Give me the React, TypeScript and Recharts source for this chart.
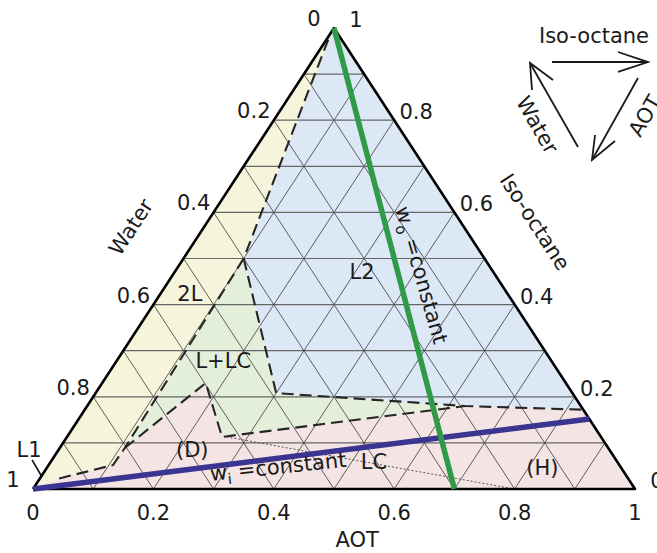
import React from 'react';
import { ScatterChart, Scatter, XAxis, YAxis } from 'recharts';

// Ternary points are [AOT fraction, iso-octane fraction]; water = 1 - AOT - iso-octane.
type T = [number, number];

const GRID_STEPS = [0.1, 0.2, 0.3, 0.4, 0.5, 0.6, 0.7, 0.8, 0.9];
const AOT_TICKS = [0, 0.2, 0.4, 0.6, 0.8, 1];
const WATER_TICKS = [0, 0.2, 0.4, 0.6, 0.8, 1];
const ISO_TICKS = [0, 0.2, 0.4, 0.6, 0.8, 1];

// phase regions
const REGION_2L: T[] = [[0, 1], [0, 0], [0.03, 0.022], [0.107, 0.052], [0.108, 0.089], [0.1, 0.5]];
const REGION_L2: T[] = [[0, 1], [0.1, 0.5], [0.3, 0.208], [0.628, 0.18], [0.828, 0.172]];
const REGION_LLC: T[] = [[0.1, 0.5], [0.108, 0.089], [0.172, 0.23], [0.2575, 0.113], [0.628, 0.18], [0.3, 0.208]];
const REGION_LC: T[] = [[0.828, 0.172], [1, 0], [0, 0], [0.03, 0.022], [0.107, 0.052], [0.108, 0.089], [0.172, 0.23], [0.2575, 0.113], [0.628, 0.18]];

// phase boundaries
const BOUNDARY_2L_L2: T[] = [[0.003, 0.975], [0.1, 0.5]];
const BOUNDARY_2L_RIGHT: T[] = [[0.1, 0.5], [0.108, 0.089], [0.107, 0.052], [0.03, 0.022]];
const BOUNDARY_L2_LOWER: T[] = [[0.1, 0.5], [0.3, 0.208], [0.628, 0.18], [0.828, 0.172]];
const BOUNDARY_LC_UPPER: T[] = [[0.108, 0.089], [0.172, 0.23], [0.2575, 0.113], [0.628, 0.18]];
const TIE_LINE: T[] = [[0.265, 0.113], [0.8, 0]];
const L1_POINTER: T[] = [[-0.033, 0.063], [0.002, 0.026]];

// constant-ratio lines
const WO_LINE: T[] = [[0, 1], [0.7, 0]];
const WI_LINE: T[] = [[0, 0], [0.848, 0.152]];

const TRIANGLE: T[] = [[0, 0], [1, 0], [0, 1], [0, 0]];

// labels in ternary coordinates
const REGION_LABELS = [
  { t: 'L2', p: [0.311, 0.471] as T },
  { t: '2L', p: [0.049, 0.423] as T },
  { t: 'L+LC', p: [0.177, 0.278] as T },
  { t: '(D)', p: [0.222, 0.085] as T },
  { t: 'LC', p: [0.537, 0.059] as T },
  { t: '(H)', p: [0.823, 0.046] as T },
  { t: 'L1', p: [-0.049, 0.085] as T },
];
const AXIS_TITLES = [
  { t: 'Water', p: [-0.121, 0.568] as T, rot: -57 },
  { t: 'Iso-octane', p: [0.544, 0.579] as T, rot: 57 },
  { t: 'AOT', p: [0.594, -0.111] as T, rot: 0 },
];
const FORMULA_LABELS = [
  { t: 'w', sub: 'i', rest: '=constant', p: [0.383, 0.048] as T, rot: -6 },
  { t: 'w', sub: 'o', rest: '=constant', p: [0.413, 0.464] as T, rot: 74 },
];

// orientation legend (plain chart-plane coordinates)
const LEGEND_ARROWS: { x: number; y: number }[][] = [
  [{ x: 0.8621, y: 0.9262 }, { x: 1.0216, y: 0.9262 }],
  [{ x: 0.9718, y: 0.9479 }, { x: 1.0216, y: 0.9262 }, { x: 0.9718, y: 0.9046 }],
  [{ x: 1.005, y: 0.8915 }, { x: 0.9286, y: 0.7137 }],
  [{ x: 0.9336, y: 0.7679 }, { x: 0.9286, y: 0.7137 }, { x: 0.9668, y: 0.7549 }],
  [{ x: 0.9053, y: 0.7419 }, { x: 0.8256, y: 0.9241 }],
  [{ x: 0.8638, y: 0.8872 }, { x: 0.8256, y: 0.9241 }, { x: 0.8289, y: 0.8655 }],
];
const LEGEND_LABELS = [
  { t: 'Iso-octane', x: 0.9319, y: 0.9826, rot: 0 },
  { t: 'AOT', x: 1.0166, y: 0.8091, rot: -60 },
  { t: 'Water', x: 0.8372, y: 0.7896, rot: 60 },
];

const tern = ([a, o]: T) => ({ x: a + o / 2, y: o });
const fmt = (v: number) => (v === 0 ? '0' : v === 1 ? '1' : v.toFixed(1));

const W = 657;
const H = 553;
// plot placement: ternary base spans 602 px from x=33, height 461 px above y=489
const X_DOMAIN: [number, number] = [-33 / 602, (W - 33) / 602];
const Y_DOMAIN: [number, number] = [-(H - 489) / 461, 489 / 461];

const FONT = 'DejaVu Sans';
const TEXT_FILL = '#1a1a1a';

const Blank = () => <g />;

const makeText = (dx: number, dy: number, size = 21) => (p: any) => {
  const d = p.payload || {};
  const cx = p.cx + dx;
  const cy = p.cy + dy;
  return (
    <text
      x={cx}
      y={cy}
      textAnchor="middle"
      dominantBaseline="central"
      fontFamily={FONT}
      fontSize={size}
      fill={TEXT_FILL}
      transform={d.rot ? `rotate(${d.rot} ${cx} ${cy})` : undefined}
    >
      {d.t}
      {d.sub ? (
        <tspan dy={7} fontSize={15}>
          {d.sub}
        </tspan>
      ) : null}
      {d.rest ? <tspan dy={d.sub ? -7 : 0}>{' ' + d.rest}</tspan> : null}
    </text>
  );
};

const gridLines: { pts: T[]; horiz: boolean }[] = [];
GRID_STEPS.forEach((k) => {
  gridLines.push({ pts: [[0, k], [1 - k, k]], horiz: true });
  gridLines.push({ pts: [[k, 0], [k, 1 - k]], horiz: false });
  gridLines.push({ pts: [[1 - k, 0], [0, 1 - k]], horiz: false });
});

const series = (key: string, data: { x: number; y: number }[], line: any) => (
  <Scatter
    key={key}
    data={data}
    line={line}
    lineJointType="linear"
    shape={Blank}
    isAnimationActive={false}
    legendType="none"
  />
);

const poly = (key: string, pts: T[], fill: string) =>
  series(key, pts.map(tern), { fill, stroke: 'none' });

const polyline = (key: string, pts: T[], style: any) =>
  series(key, pts.map(tern), { fill: 'none', strokeLinejoin: 'round', ...style });

const DASH = { stroke: '#262626', strokeWidth: 2.1, strokeDasharray: '12 6' };

export default function App() {
  return (
    <div style={{ width: W, height: H }}>
      <style>{'body{margin:0}.recharts-wrapper,.recharts-surface{overflow:visible !important}'}</style>
      <ScatterChart width={W} height={H} margin={{ top: 0, right: 0, bottom: 0, left: 0 }}>
        <XAxis type="number" dataKey="x" domain={X_DOMAIN} hide />
        <YAxis type="number" dataKey="y" domain={Y_DOMAIN} hide />

        {poly('r-l2', REGION_L2, '#dce8f5')}
        {poly('r-2l', REGION_2L, '#f6f5dc')}
        {poly('r-llc', REGION_LLC, '#e3efdb')}
        {poly('r-lc', REGION_LC, '#f4e4e4')}

        {gridLines.map((g, i) =>
          polyline(
            'g' + i,
            g.pts,
            g.horiz ? { stroke: '#666', strokeWidth: 1.2 } : { stroke: '#3a3a3a', strokeWidth: 0.8 }
          )
        )}

        {polyline('b1', BOUNDARY_2L_L2, DASH)}
        {polyline('b2', BOUNDARY_2L_RIGHT, DASH)}
        {polyline('b3', BOUNDARY_L2_LOWER, DASH)}
        {polyline('b4', BOUNDARY_LC_UPPER, DASH)}
        {polyline('tie', TIE_LINE, { stroke: '#555', strokeWidth: 1, strokeDasharray: '2 2' })}
        {polyline('l1p', L1_POINTER, { stroke: '#111', strokeWidth: 1.6 })}

        {polyline('tri', TRIANGLE, { stroke: '#000', strokeWidth: 2.6 })}

        {polyline('wi', WI_LINE, { stroke: '#3b3490', strokeWidth: 5.5 })}
        {polyline('wo', WO_LINE, { stroke: '#2f9a48', strokeWidth: 5.5 })}

        {LEGEND_ARROWS.map((a, i) =>
          series('arr' + i, a, { fill: 'none', stroke: '#1a1a1a', strokeWidth: 1.8, strokeLinejoin: 'miter' })
        )}

        <Scatter
          data={AOT_TICKS.map((v) => ({ ...tern([v, 0]), t: fmt(v) }))}
          shape={makeText(0, 24)}
          isAnimationActive={false}
          legendType="none"
        />
        <Scatter
          data={WATER_TICKS.map((v) => ({ ...tern([0, 1 - v]), t: fmt(v) }))}
          shape={makeText(-20, -9)}
          isAnimationActive={false}
          legendType="none"
        />
        <Scatter
          data={ISO_TICKS.map((v) => ({ ...tern([1 - v, v]), t: fmt(v) }))}
          shape={makeText(22, -8)}
          isAnimationActive={false}
          legendType="none"
        />
        <Scatter
          data={REGION_LABELS.map((l) => ({ ...tern(l.p), t: l.t }))}
          shape={makeText(0, 0)}
          isAnimationActive={false}
          legendType="none"
        />
        <Scatter
          data={AXIS_TITLES.map((l) => ({ ...tern(l.p), t: l.t, rot: l.rot }))}
          shape={makeText(0, 0)}
          isAnimationActive={false}
          legendType="none"
        />
        <Scatter
          data={FORMULA_LABELS.map((l) => ({ ...tern(l.p), t: l.t, sub: l.sub, rest: l.rest, rot: l.rot }))}
          shape={makeText(0, 0)}
          isAnimationActive={false}
          legendType="none"
        />
        <Scatter
          data={LEGEND_LABELS.map((l) => ({ x: l.x, y: l.y, t: l.t, rot: l.rot }))}
          shape={makeText(0, 0)}
          isAnimationActive={false}
          legendType="none"
        />
      </ScatterChart>
    </div>
  );
}
